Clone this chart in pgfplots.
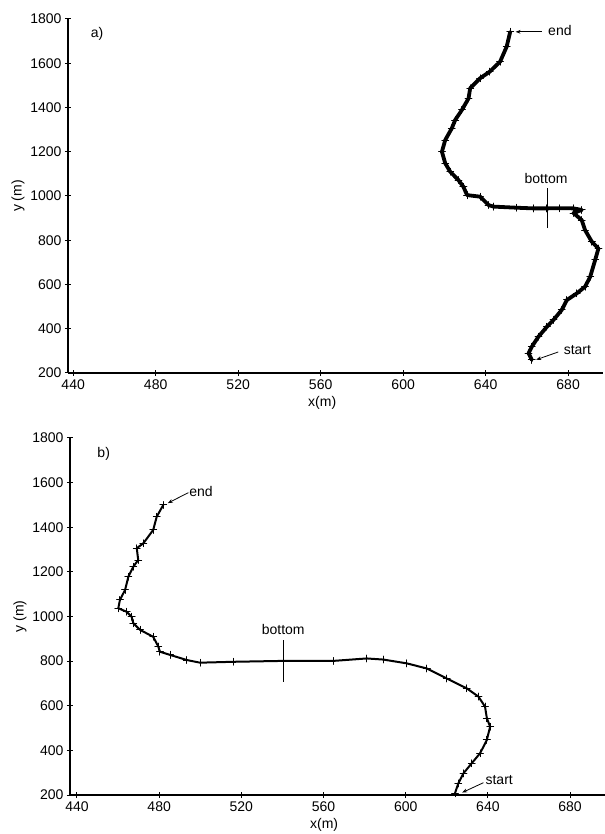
\documentclass[border=0pt]{standalone}
\usepackage{fontspec}
\setmainfont{Liberation Sans}
\usepackage{pgfplots}
\pgfplotsset{compat=1.18}
\usetikzlibrary{arrows.meta}
\tikzset{ann/.style={black, line width=0.8bp}}
\pgfplotsset{
  trackaxis/.style={
    scale only axis,
    font=\fontsize{14bp}{16bp}\selectfont,
    axis x line=bottom, axis y line=left,
    axis line style={-, line width=1.3bp},
    tick align=center, major tick length=6bp,
    tick style={line width=1bp, black},
    ymin=200, ymax=1800,
    ytick={200,400,...,1800},
    xtick={440,480,...,680},
    scaled ticks=false,
    /pgf/number format/1000 sep={},
    /pgf/number format/assume math mode=true,
    every axis y label/.style={at={(axis description cs:0,0.5)}, rotate=90, anchor=center, yshift=50bp},
    every axis x label/.style={at={(axis description cs:0.475,0)}, anchor=center, yshift=-30bp},
    ylabel={y (m)}, xlabel={x(m)},
    clip=false,
  },
  track/.style={black, line width=3.8bp, line join=round, line cap=round, mark=+, mark size=3.4bp, mark options={line width=1bp}},
}
\begin{document}
\begin{tikzpicture}
\path[use as bounding box] (0,0) rectangle (605bp,834bp);
% ---------- panel a ----------
\begin{axis}[trackaxis, at={(68bp,461bp)}, anchor=south west,
  width=535.2bp, height=354bp, xmin=437.5, xmax=697]
\addplot[track] coordinates {
(662.4,259) (660.8,289) (662.4,319) (665.6,364) (669.7,409) (672.9,440)
(676.9,485) (679.4,530) (684.2,560) (688.2,590) (690.7,635) (693.1,711)
(694.7,763) (691.5,793) (688.2,846) (686.6,891) (682.6,923) (686.6,937)
(682.6,944) (676,945) (669.7,944) (663.2,944) (655,947) (643.8,952)
(641.4,959) (637.3,997) (631.0,1004) (629.2,1042) (626.8,1072) (622.8,1110)
(620.4,1148) (618.8,1200) (620.4,1253) (623.6,1306) (625.2,1343) (628.5,1389)
(631.7,1441) (632.5,1487) (637.3,1532) (642.0,1562) (647.0,1607) (650.2,1675)
(651.9,1742)};
\addplot[ann] coordinates {(669.7,855) (669.7,1036)};
\addplot[ann] coordinates {(666.5,944) (673,944)};
\node at (axis cs:451.6,1732) {a)};
\node at (axis cs:676,1750) {end};
\draw[ann, -{Stealth[length=5bp]}] (axis cs:667.3,1742) -- (axis cs:654.5,1742);
\node at (axis cs:669.3,1081) {bottom};
\node at (axis cs:684.5,304) {start};
\draw[ann, -{Stealth[length=5bp]}] (axis cs:675.2,295) -- (axis cs:664.5,260);
\end{axis}
% ---------- panel b ----------
\begin{axis}[trackaxis, at={(70bp,39bp)}, anchor=south west,
  width=535bp, height=357bp, xmin=436.6, xmax=697]
\addplot[track, line width=2bp] coordinates {
(624,208) (625.6,252) (628.1,297) (632.1,342) (636.2,387) (639.5,447)
(641.1,506) (639.5,544) (638.6,596) (635.4,641) (629.7,678) (620,722)
(610.3,767) (600.5,790) (589.1,807) (581,812) (564.8,801) (540.4,801)
(516.1,797) (499.9,793) (493.4,805) (485.3,828) (480.4,842) (479.6,865)
(477.1,909) (470.7,940) (467.4,970) (466.6,999) (464.2,1021) (460.1,1037)
(460.9,1074) (463.4,1119) (465,1178) (467.4,1223) (469.8,1253) (469.1,1306)
(472.3,1328) (477.1,1388) (478.8,1447) (482,1500)};
\addplot[ann] coordinates {(540.4,707) (540.4,895)};
\addplot[ann] coordinates {(537,801) (544,801)};
\node at (axis cs:453,1728) {b)};
\node at (axis cs:500.4,1558) {end};
\draw[ann, -{Stealth[length=5bp]}] (axis cs:494.2,1555) -- (axis cs:484.2,1508);
\node at (axis cs:540.4,940) {bottom};
\node at (axis cs:645.5,267) {start};
\draw[ann, -{Stealth[length=5bp]}] (axis cs:637.8,255) -- (axis cs:627.5,211);
\end{axis}
\end{tikzpicture}
\end{document}
